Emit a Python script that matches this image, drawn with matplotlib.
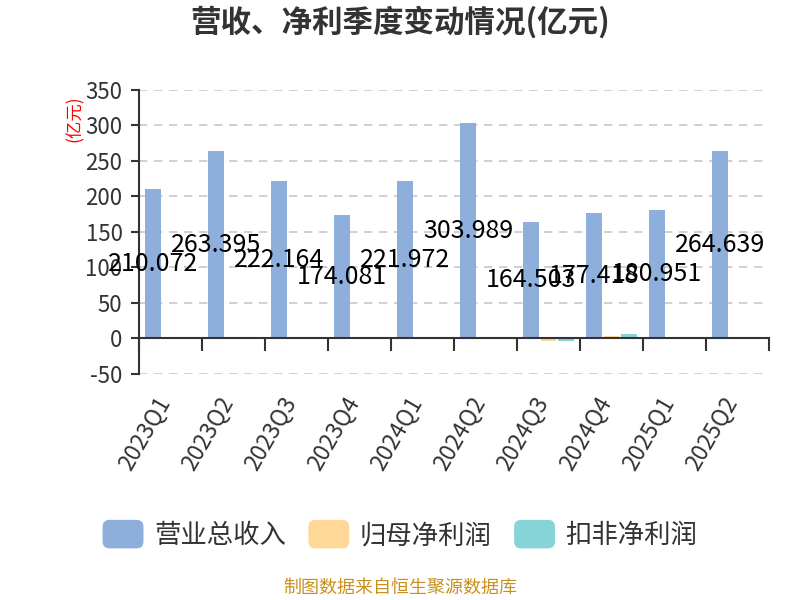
import numpy as np
import matplotlib
import matplotlib.pyplot as plt
from matplotlib.patches import FancyBboxPatch, Patch
from matplotlib.legend_handler import HandlerPatch
from matplotlib.transforms import ScaledTranslation

matplotlib.use('Agg')
plt.rcParams['font.family'] = ['Noto Sans CJK SC', 'DejaVu Sans']
plt.rcParams['axes.unicode_minus'] = False

# data (亿元)
quarters = ['2023Q1', '2023Q2', '2023Q3', '2023Q4', '2024Q1',
            '2024Q2', '2024Q3', '2024Q4', '2025Q1', '2025Q2']
revenue = [210.072, 263.395, 222.164, 174.081, 221.972,
           303.989, 164.503, 177.418, 180.951, 264.639]
net_profit = [0.5, 0.2, 0.4, 2.0, 0.5, 0.8, -3.0, 4.0, 0.5, 1.5]
net_profit_deducted = [0.6, 0.3, 0.2, 2.5, 0.4, 0.5, -3.5, 6.5, 0.4, 0.6]
series_names = ['营业总收入', '归母净利润', '扣非净利润']
y_ticks = [-50, 0, 50, 100, 150, 200, 250, 300, 350]

colors = ['#8eaedb', '#ffd898', '#86d4d8']


class RoundBoxHandler(HandlerPatch):
    # rounded legend swatches
    def create_artists(self, legend, orig_handle, xdescent, ydescent,
                       width, height, fontsize, trans):
        box = FancyBboxPatch((-xdescent, -ydescent - 3), width, height + 6,
                             boxstyle='round,pad=0,rounding_size=5',
                             facecolor=orig_handle.get_facecolor(),
                             edgecolor='none', transform=trans)
        return [box]


fig = plt.figure(figsize=(8, 6), dpi=100)
ax = fig.add_axes([0.174, 0.3767, 0.787, 0.4733])

x = np.arange(len(quarters))
width = 0.25
offsets = [-0.28, 0.0, 0.28]
for vals, off, c in zip([revenue, net_profit, net_profit_deducted], offsets, colors):
    ax.bar(x + off, vals, width=width, color=c, zorder=2)

# value labels in the middle of the revenue bars
for xi, v in zip(x, revenue):
    ax.text(xi + offsets[0], v / 2, f'{v:.3f}', ha='center', va='center',
            fontsize=18, color='black', zorder=4)

ax.set_xlim(-0.5, len(quarters) - 0.5)
ax.set_ylim(-50, 350)
ax.set_yticks(y_ticks)
ax.set_yticklabels([str(t) for t in y_ticks])
ax.yaxis.grid(True, linestyle=(0, (5, 4)), color='#c8c8c8', linewidth=1.2, zorder=0)

for s in ['top', 'right']:
    ax.spines[s].set_visible(False)
ax.spines['left'].set_color('#333333')
ax.spines['left'].set_linewidth(1.5)
ax.spines['bottom'].set_position(('data', 0))
ax.spines['bottom'].set_color('#333333')
ax.spines['bottom'].set_linewidth(1.5)
ax.spines['bottom'].set_zorder(3)

ax.tick_params(axis='y', length=6, width=1.5, color='#333333', labelsize=16,
               labelcolor='#333333', pad=6)
# boundary ticks as major, category labels as minor
ax.set_xticks(np.arange(len(quarters) + 1) - 0.5)
ax.set_xticklabels([])
ax.tick_params(axis='x', which='major', length=9, width=1.5, color='#333333')
ax.set_xticks(x, minor=True)
ax.set_xticklabels(quarters, minor=True, rotation=60, ha='right',
                   va='center', rotation_mode='anchor')
ax.tick_params(axis='x', which='minor', length=0, labelsize=16.5,
               labelcolor='#333333', pad=32)
shift = ScaledTranslation(-0.06, -0.15, fig.dpi_scale_trans)
for lbl in ax.get_xticklabels(minor=True):
    lbl.set_transform(lbl.get_transform() + shift)

ax.text(-0.102, 0.90, '(亿元)', transform=ax.transAxes, rotation=90,
        ha='center', va='center', color='red', fontsize=12.5)

fig.text(0.5, 0.963, '营收、净利季度变动情况(亿元)', ha='center', va='center',
         fontsize=22, fontweight='bold', color='#333333')

handles = [Patch(facecolor=c) for c in colors]
fig.legend(handles, series_names, loc='center', bbox_to_anchor=(0.5, 0.107),
           ncol=3, frameon=False, fontsize=19, handlelength=1.55,
           handleheight=0.8, handletextpad=0.4, columnspacing=0.85,
           labelcolor='#333333', handler_map={Patch: RoundBoxHandler()})

fig.text(0.5, 0.02, '制图数据来自恒生聚源数据库', ha='center', va='center',
         fontsize=13, color='#c8911e')

fig.savefig('out.png', dpi=100)
